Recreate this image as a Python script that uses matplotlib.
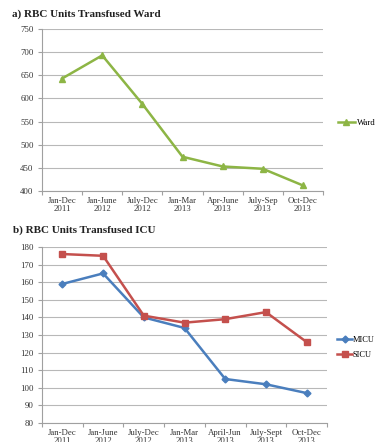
import matplotlib.pyplot as plt

# RBC units transfused per period
periods = ["Jan-Dec\n2011", "Jan-June\n2012", "July-Dec\n2012", "Jan-Mar\n2013",
           "Apr-June\n2013", "July-Sep\n2013", "Oct-Dec\n2013"]
periods_icu = ["Jan-Dec\n2011", "Jan-June\n2012", "July-Dec\n2012", "Jan-Mar\n2013",
               "April-Jun\n2013", "July-Sept\n2013", "Oct-Dec\n2013"]
ward = [643, 693, 588, 474, 453, 448, 412]
micu = [159, 165, 140, 134, 105, 102, 97]
sicu = [176, 175, 141, 137, 139, 143, 126]

W, H = 378, 442
fig = plt.figure(figsize=(W / 100, H / 100), dpi=100)
plt.rcParams['font.family'] = ['Liberation Serif', 'DejaVu Serif']

def box(left, right, top, bottom):
    return [left / W, 1 - bottom / H, (right - left) / W, (bottom - top) / H]

def style(ax, labels, ymin, ymax, step):
    x = range(len(labels))
    ax.set_xlim(-0.5, len(labels) - 0.5)
    ax.set_ylim(ymin, ymax)
    ax.set_yticks(range(ymin, ymax + 1, step))
    ax.set_xticks(list(x))
    ax.set_xticklabels(labels, fontsize=6.3, linespacing=1.1)
    ax.set_xticks([i - 0.5 for i in range(len(labels) + 1)], minor=True)
    ax.tick_params(axis='x', which='major', length=0, pad=4)
    ax.tick_params(axis='x', which='minor', length=3, color='#a0a0a0', width=0.8)
    ax.tick_params(axis='y', length=3, color='#a0a0a0', width=0.8, labelsize=6.3,
                   pad=3, labelcolor='#333333')
    ax.tick_params(axis='x', labelcolor='#333333')
    ax.grid(axis='y', color='#b8b8b8', linewidth=0.8)
    ax.set_axisbelow(True)
    for s in ['top', 'right']:
        ax.spines[s].set_visible(False)
    for s in ['left', 'bottom']:
        ax.spines[s].set_color('#a0a0a0')
        ax.spines[s].set_linewidth(0.8)

# a) ward
ax1 = fig.add_axes(box(42, 323, 29, 191))
ax1.plot(range(len(ward)), ward, color='#8db545', linewidth=1.8, marker='^',
         markersize=5, label='Ward')
style(ax1, periods, 400, 750, 50)
ax1.legend(loc='center left', bbox_to_anchor=(1.04, 0.42), frameon=False,
           fontsize=6.3, handlelength=2.0, handletextpad=0.2, borderaxespad=0)
fig.text(12 / W, 1 - 14 / H, "a) RBC Units Transfused Ward", fontsize=8,
         fontweight='bold', va='center', ha='left', color='#222222')

# b) ICU
ax2 = fig.add_axes(box(42, 327, 247, 423))
ax2.plot(range(len(micu)), micu, color='#4a7ebd', linewidth=1.8, marker='D',
         markersize=3.5, label='MICU')
ax2.plot(range(len(sicu)), sicu, color='#c4504d', linewidth=1.8, marker='s',
         markersize=5, label='SICU')
style(ax2, periods_icu, 80, 180, 10)
ax2.legend(loc='center left', bbox_to_anchor=(1.025, 0.43), frameon=False,
           fontsize=6, handlelength=1.7, handletextpad=0.1, borderaxespad=0,
           labelspacing=0.85)
fig.text(13 / W, 1 - 230 / H, "b) RBC Units Transfused ICU", fontsize=8,
         fontweight='bold', va='center', ha='left', color='#222222')

fig.savefig("out.png", dpi=100)
